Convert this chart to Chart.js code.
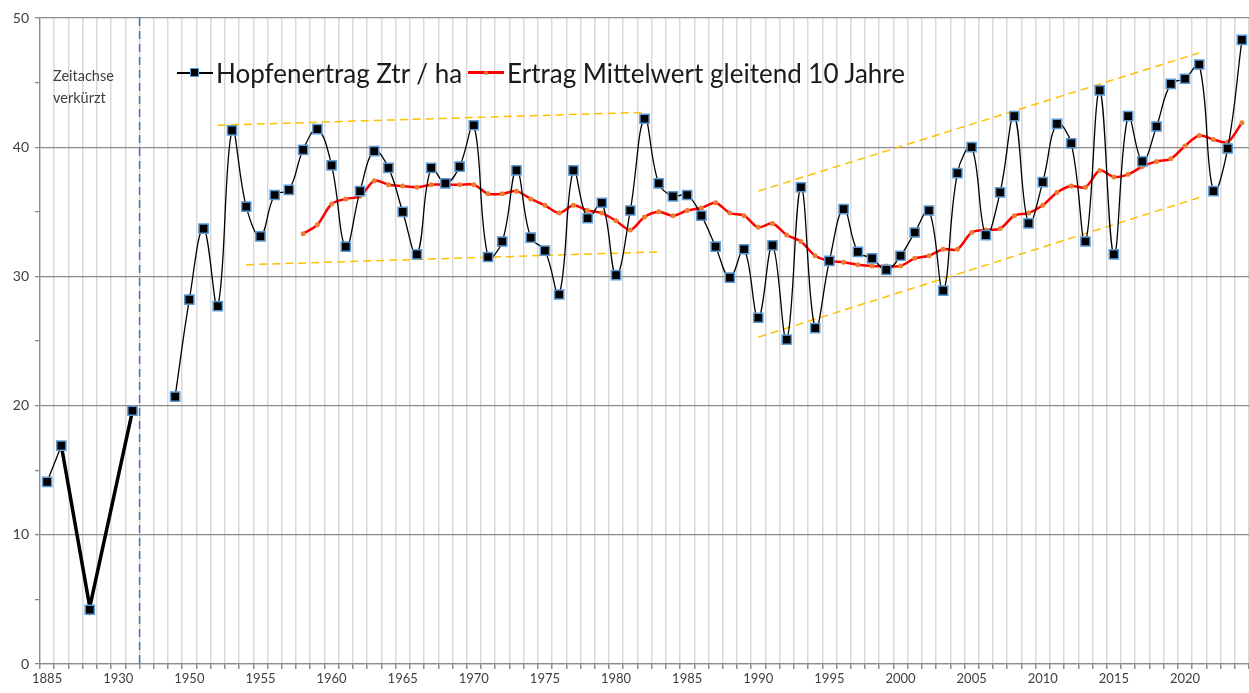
<!DOCTYPE html>
<html>
<head>
<meta charset="utf-8">
<script src="https://cdn.jsdelivr.net/npm/chart.js@4"></script>
<style>
    body { margin: 0; background: #fff; overflow: hidden; }
    #wrap { position: relative; width: 1249px; height: 693px; }
    #legend {
        position: absolute; left: 177px; top: 55px;
        font-family: Lato, "Noto Sans", sans-serif; font-size: 26px; line-height: 30px;
        color: #1a1a1a; white-space: nowrap;
    }
    #legend .item { display: inline-block; vertical-align: middle; }
    #legend .icon { position: relative; display: inline-block; width: 36px; height: 30px; vertical-align: middle; margin-right: 3px; }
    #legend .icon .ln { position: absolute; left: 0; right: 0; top: 14px; height: 1.5px; background: #000; }
    #legend .icon .sq { position: absolute; left: 13px; top: 10px; width: 7px; height: 7px; background: #000; border: 1.5px solid #5B9BD5; }
    #legend .icon.red .ln { top: 13px; height: 3px; background: #ff0000; }
    #legend .icon.red .dot { position: absolute; left: 16px; top: 13px; width: 4px; height: 4px; border-radius: 2px; background: #ED7D31; }
    #note {
        position: absolute; left: 53px; top: 65px;
        font-family: Lato, "Noto Sans", sans-serif; font-size: 14.5px; line-height: 22px; color: #404040;
    }
</style>
</head>
<body>
<div id="wrap">
    <canvas id="hopfen" width="1249" height="693"></canvas>
    <div id="legend"><span class="icon"><span class="ln"></span><span class="sq"></span></span><span class="item">Hopfenertrag Ztr / ha</span><span class="icon red" style="margin-left:6px"><span class="ln"></span><span class="dot"></span></span><span class="item">Ertrag Mittelwert gleitend 10 Jahre</span></div>
    <div id="note">Zeitachse<br>verkürzt</div>
</div>
<script>
// -- Data --
// Zeitachse: vor 1950 verkürzt (nur einzelne Jahre)
const jahre = [
    '1885', '1890', '1900', '1910', '1920', '1930', '1935', '1947', '1948', '1949',
    '1950', '1951', '1952', '1953', '1954', '1955', '1956', '1957', '1958', '1959',
    '1960', '1961', '1962', '1963', '1964', '1965', '1966', '1967', '1968', '1969',
    '1970', '1971', '1972', '1973', '1974', '1975', '1976', '1977', '1978', '1979',
    '1980', '1981', '1982', '1983', '1984', '1985', '1986', '1987', '1988', '1989',
    '1990', '1991', '1992', '1993', '1994', '1995', '1996', '1997', '1998', '1999',
    '2000', '2001', '2002', '2003', '2004', '2005', '2006', '2007', '2008', '2009',
    '2010', '2011', '2012', '2013', '2014', '2015', '2016', '2017', '2018', '2019',
    '2020', '2021', '2022', '2023', '2024'
];

// Hopfenertrag in Zentner pro Hektar
const ertrag = [
    14.1, 16.9, null, 4.2, null, null, 19.6, null, null, 20.7,
    28.2, 33.7, 27.7, 41.3, 35.4, 33.1, 36.3, 36.7, 39.8, 41.4,
    38.6, 32.3, 36.6, 39.7, 38.4, 35.0, 31.7, 38.4, 37.2, 38.5,
    41.7, 31.5, 32.7, 38.2, 33.0, 32.0, 28.6, 38.2, 34.5, 35.7,
    30.1, 35.1, 42.2, 37.2, 36.2, 36.3, 34.7, 32.3, 29.9, 32.1,
    26.8, 32.4, 25.1, 36.9, 26.0, 31.2, 35.2, 31.9, 31.4, 30.5,
    31.6, 33.4, 35.1, 28.9, 38.0, 40.0, 33.2, 36.5, 42.4, 34.1,
    37.3, 41.8, 40.3, 32.7, 44.4, 31.7, 42.4, 38.9, 41.6, 44.9,
    45.3, 46.4, 36.6, 39.9, 48.3
];

// gleitender Mittelwert ueber 10 Jahre (ab 1958)
const mittelwert = [
    null, null, null, null, null, null, null, null, null, null,
    null, null, null, null, null, null, null, null, 33.3, 34.0,
    35.6, 36.0, 36.2, 37.4, 37.1, 37.0, 36.9, 37.1, 37.1, 37.1,
    37.1, 36.4, 36.4, 36.6, 36.0, 35.5, 34.9, 35.5, 35.1, 34.9,
    34.3, 33.6, 34.6, 35.0, 34.7, 35.1, 35.3, 35.7, 34.9, 34.7,
    33.8, 34.1, 33.2, 32.7, 31.6, 31.2, 31.1, 30.9, 30.8, 30.8,
    30.8, 31.4, 31.6, 32.1, 32.1, 33.4, 33.6, 33.7, 34.7, 34.9,
    35.5, 36.5, 37.0, 36.9, 38.2, 37.7, 37.9, 38.5, 38.9, 39.1,
    40.1, 40.9, 40.6, 40.4, 41.9
];

// dicke Linie im verkuerzten Teil
const fruehJahre = ['1890', '1910', '1935'];
const fruehWerte = [16.9, 4.4, 19.6];

// Trendlinien (gestrichelt)
const trendObenLinksJahre = ['1952', '1982'];
const trendObenLinksWerte = [41.7, 42.7];
const trendUntenLinksJahre = ['1954', '1983'];
const trendUntenLinksWerte = [30.9, 31.9];
const trendObenRechtsJahre = ['1990', '2021'];
const trendObenRechtsWerte = [36.6, 47.3];
const trendUntenRechtsJahre = ['1990', '2021'];
const trendUntenRechtsWerte = [25.3, 36.1];

const yTicks = [0, 10, 20, 30, 40, 50];

// -- Helpers --
function toPoints(xs, ys) {
    return xs.map((x, i) => ({ x: x, y: ys[i] }));
}

function trendDataset(xs, ys) {
    return {
        data: toPoints(xs, ys),
        borderColor: '#FFC000',
        borderWidth: 1.5,
        borderDash: [8, 5],
        pointRadius: 0,
        tension: 0,
        spanGaps: true
    };
}

// blaue gestrichelte Linie: Zeitachse verkuerzt
const zeitachseBruch = {
    id: 'zeitachseBruch',
    beforeDatasetsDraw(chart) {
        const ctx = chart.ctx;
        const area = chart.chartArea;
        const x = chart.scales.x.getPixelForValue(6.5);
        ctx.save();
        ctx.strokeStyle = '#4472C4';
        ctx.lineWidth = 1.5;
        ctx.setLineDash([8, 5]);
        ctx.beginPath();
        ctx.moveTo(x, area.top);
        ctx.lineTo(x, area.bottom);
        ctx.stroke();
        ctx.restore();
    }
};

const tickFont = { family: 'Lato, "Noto Sans", sans-serif', size: 13 };

new Chart(document.getElementById('hopfen'), {
    type: 'line',
    data: {
        labels: jahre,
        datasets: [
            {
                label: 'Hopfenertrag Ztr / ha',
                data: ertrag,
                borderColor: '#000',
                borderWidth: 1.3,
                tension: 0.4,
                spanGaps: false,
                pointStyle: 'rect',
                pointRadius: 6.5,
                pointBackgroundColor: '#000',
                pointBorderColor: '#5B9BD5',
                pointBorderWidth: 1.5
            },
            {
                label: 'Ertrag Mittelwert gleitend 10 Jahre',
                data: mittelwert,
                borderColor: '#FF0000',
                borderWidth: 2.5,
                tension: 0.3,
                pointRadius: 2.5,
                pointBackgroundColor: '#ED7D31',
                pointBorderWidth: 0
            },
            {
                data: toPoints(fruehJahre, fruehWerte),
                borderColor: '#000',
                borderWidth: 3.5,
                pointRadius: 0,
                tension: 0,
                spanGaps: true
            },
            trendDataset(trendObenLinksJahre, trendObenLinksWerte),
            trendDataset(trendUntenLinksJahre, trendUntenLinksWerte),
            trendDataset(trendObenRechtsJahre, trendObenRechtsWerte),
            trendDataset(trendUntenRechtsJahre, trendUntenRechtsWerte)
        ]
    },
    options: {
        responsive: false,
        animation: false,
        events: [],
        layout: { autoPadding: false, padding: { top: 18, right: -1, left: 0, bottom: 0 } },
        scales: {
            x: {
                type: 'category',
                offset: true,
                grid: {
                    offset: true,
                    color: '#d9d9d9',
                    lineWidth: 1.5,
                    tickLength: 5,
                    tickColor: '#8c8c8c'
                },
                border: { color: '#8c8c8c', width: 1.3 },
                ticks: {
                    autoSkip: false,
                    maxRotation: 0,
                    color: '#404040',
                    font: tickFont,
                    padding: 2,
                    callback: function (value, index) {
                        return index % 5 === 0 ? this.getLabelForValue(value) : '';
                    }
                },
                afterFit: (scale) => {
                    scale.height = 29;
                    scale.paddingLeft = 0;
                    scale.paddingRight = 0;
                }
            },
            y: {
                min: 0,
                max: 50,
                ticks: {
                    stepSize: 5,
                    color: '#404040',
                    font: { family: 'Lato, "Noto Sans", sans-serif', size: 14 },
                    padding: 6,
                    callback: (v) => yTicks.includes(v) ? v : ''
                },
                grid: {
                    color: (c) => yTicks.includes(c.tick.value) ? '#8c8c8c' : 'rgba(0,0,0,0)',
                    lineWidth: 1.3,
                    tickLength: 5,
                    tickColor: '#8c8c8c'
                },
                border: { color: '#8c8c8c', width: 1.3 },
                afterFit: (scale) => { scale.width = 40; }
            }
        },
        plugins: {
            legend: { display: false },
            tooltip: { enabled: false },
            title: { display: false }
        }
    },
    plugins: [zeitachseBruch]
});
</script>
</body>
</html>
